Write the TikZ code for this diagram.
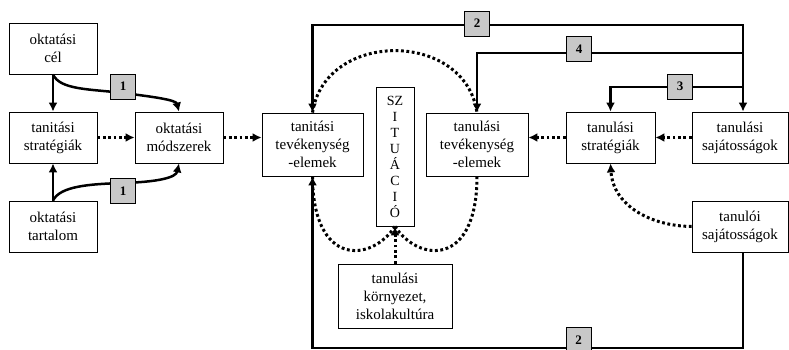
\documentclass[tikz,border=0pt]{standalone}
\usepackage{fontspec}
\setmainfont{Liberation Serif}
\usetikzlibrary{arrows.meta,calc}
\definecolor{labgray}{RGB}{200,200,200}
\begin{document}
\begin{tikzpicture}[x=1pt,y=-1pt,
  box/.style={draw, line width=0.8pt, fill=white, inner sep=0pt, align=center, font=\rmfamily\fontsize{15}{18}\selectfont},
  lab/.style={draw, line width=0.8pt, fill=labgray, minimum width=25pt, minimum height=25pt, inner sep=0pt, font=\rmfamily\fontsize{13}{13}\selectfont\bfseries},
  solidline/.style={line width=2.5pt},
  dotline/.style={line width=3pt, dash pattern=on 2.8pt off 2.6pt},
  tip/.style={-{Latex[length=9pt,width=9pt]}},
  tips/.style={{Latex[length=9pt,width=9pt]}-{Latex[length=9pt,width=9pt]}}
]
\useasboundingbox (0,0) rectangle (789,350);

% boxes
\node[box, minimum width=88pt, minimum height=51pt] (cel) at (53,48.5) {oktatási\\cél};
\node[box, minimum width=88pt, minimum height=51pt] (tstrat) at (53,137.5) {tanitási\\stratégiák};
\node[box, minimum width=88pt, minimum height=51pt] (modsz) at (179,137.5) {oktatási\\módszerek};
\node[box, minimum width=88pt, minimum height=51pt] (tart) at (53,226.5) {oktatási\\tartalom};
\node[box, minimum width=101pt, minimum height=63pt] (tanitev) at (312.5,144.5) {tanitási\\tevékenység\\-elemek};
\node[box, minimum width=38pt, minimum height=139pt, font=\rmfamily\fontsize{14}{16}\selectfont] (szit) at (395,156.5) {SZ\\I\\T\\U\\Á\\C\\I\\Ó};
\node[box, minimum width=102pt, minimum height=63pt] (tanultev) at (477,144.5) {tanulási\\tevékenység\\-elemek};
\node[box, minimum width=89pt, minimum height=51pt] (lstrat) at (610.5,137.5) {tanulási\\stratégiák};
\node[box, minimum width=96pt, minimum height=51pt] (lsaj) at (740,137.5) {tanulási\\sajátosságok};
\node[box, minimum width=96pt, minimum height=51pt] (ltsaj) at (740,226.5) {tanulói\\sajátosságok};
\node[box, minimum width=114pt, minimum height=64pt] (korny) at (395,296) {tanulási\\környezet,\\iskolakultúra};

% coordinates
\coordinate (tr) at (743,25);
\coordinate (j4) at (743,53);
\coordinate (j3) at (743,87);
\coordinate (br) at (743,348);

% left part solid
\draw[solidline,tip] (cel.south) -- (tstrat.north);
\draw[solidline,tip] (tart.north) -- (tstrat.south);
\draw[solidline,tip] (cel.south) .. controls (60,90) and (90,89) .. (123,93) .. controls (155,97) and (176,100) .. (modsz.north);
\draw[solidline,tip] (tart.north) .. controls (60,186) and (90,184) .. (123,183) .. controls (156,182) and (176,178) .. (modsz.south);

% left dotted
\draw[dotline,tip] (tstrat.east) -- (modsz.west);
\draw[dotline,tip] (modsz.east) -- (modsz.east -| tanitev.west);

% right dotted
\draw[dotline,tip] (lsaj.west) -- (lstrat.east);
\draw[dotline,tip] (lstrat.west) -- (lstrat.west -| tanultev.east);
\draw[dotline,tip] (ltsaj.west) .. controls (650,226) and (613,205) .. (lstrat.south);

% situation loop
\draw[dotline] (tanitev.north) .. controls (325,30) and (465,30) .. (tanultev.north);
\draw[dotline] (szit.south) .. controls (372,262) and (313,268) .. (tanitev.south);
\draw[dotline] (szit.south) .. controls (418,262) and (477,268) .. (tanultev.south);
\draw[dotline,tip] (korny.north) -- (szit.south);

% solid feedback lines
\draw[solidline,tips] (tanitev.north) |- (tr) -- (tr |- lsaj.north);
\draw[solidline,tip] (j4) -| (tanultev.north);
\draw[solidline,tip] (j3) -| (lstrat.north);
\draw[solidline,tip] (ltsaj.south -| br) -- (br) -| (tanitev.south);

% labels
\node[lab] (l1a) at (123,86.5) {1};
\node[lab] (l1b) at (123,191) {1};
\node[lab] (l2a) at (477,23.5) {2};
\node[lab] (l4) at (579,49) {4};
\node[lab] (l3) at (680,86.5) {3};
\node[lab] (l2b) at (578.5,340) {2};
\end{tikzpicture}
\end{document}
